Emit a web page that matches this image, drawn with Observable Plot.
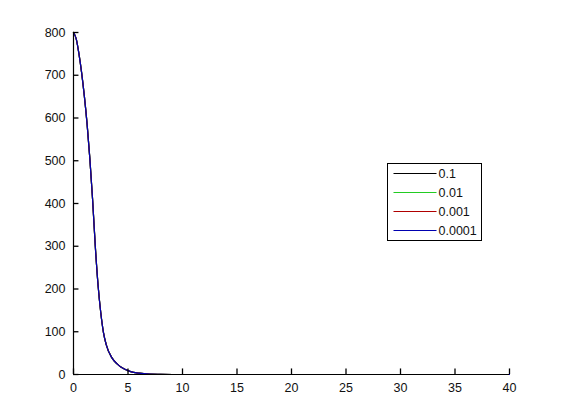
<!DOCTYPE html>
<html>
<head>
<meta charset="utf-8">
<script src="https://cdn.jsdelivr.net/npm/d3@7"></script>
<script src="https://cdn.jsdelivr.net/npm/@observablehq/plot@0.6"></script>
<style>
  html, body { margin: 0; padding: 0; background: #fff; }
  #chart { width: 561px; height: 420px; }
  svg { font-family: "Liberation Sans", Arial, sans-serif; }
</style>
</head>
<body>
<div id="chart"></div>
<script>
// Data
const xs = [0, 0.25, 0.5, 0.75, 1.0, 1.25, 1.5, 1.75, 2.0, 2.25, 2.5, 2.75, 3.0, 3.5, 4.0, 4.5, 5, 5.5, 6, 7, 8, 10, 20, 30, 40];
const ys = [800, 785, 750, 705, 650, 585, 505, 410, 300, 210, 145, 98, 70, 40, 25, 15, 9, 5, 3, 1, 0.5, 0, 0, 0, 0];
const seriesNames = ["0.1", "0.01", "0.001", "0.0001"];
const seriesColors = ["#000000", "#22cc22", "#b00000", "#0000b0"];
const xTicks = [0, 5, 10, 15, 20, 25, 30, 35, 40];
const yTicks = [0, 100, 200, 300, 400, 500, 600, 700, 800];

const data = [];
seriesNames.forEach((name) => {
  xs.forEach((x, i) => data.push({series: name, x, y: ys[i]}));
});

const chart = Plot.plot({
  width: 561,
  height: 420,
  marginLeft: 73,
  marginRight: 52,
  marginTop: 32,
  marginBottom: 46,
  style: {fontSize: "12.5px", color: "#111", background: "#fff"},
  x: {domain: [0, 40], ticks: xTicks},
  y: {domain: [0, 800], ticks: yTicks},
  color: {domain: seriesNames, range: seriesColors},
  marks: [
    Plot.line(data, {x: "x", y: "y", z: "series", stroke: "series", strokeWidth: 1.2, curve: "monotone-x"}),
    // inward tick marks (MATLAB style)
    Plot.ruleX(xTicks, {x: (d) => d, y1: 0, y2: 13, stroke: "#000", strokeWidth: 1.3}),
    Plot.ruleY(yTicks, {y: (d) => d, x1: 0, x2: 0.5, stroke: "#000", strokeWidth: 1.3}),
    Plot.ruleY([0], {stroke: "#000", strokeWidth: 1.2}),
    Plot.ruleX([0], {stroke: "#000", strokeWidth: 1.2}),
    Plot.axisX({ticks: xTicks, tickSize: 0, tickPadding: 9, label: null, fill: "#111"}),
    Plot.axisY({ticks: yTicks, tickSize: 0, tickPadding: 8, label: null, fill: "#111"})
  ]
});

document.getElementById("chart").appendChild(chart);

// Legend box (MATLAB style)
const svg = d3.select(chart);
const lg = svg.append("g").attr("transform", "translate(387.5,163.5)").attr("text-anchor", "start");
lg.append("rect").attr("width", 94).attr("height", 77).attr("fill", "#fff").attr("stroke", "#000");
seriesNames.forEach((name, i) => {
  const y = 10 + i * 19;
  lg.append("line").attr("x1", 6).attr("x2", 49).attr("y1", y).attr("y2", y)
    .attr("stroke", seriesColors[i]).attr("stroke-width", 1.2);
  lg.append("text").attr("x", 51).attr("y", y).attr("dy", "0.35em")
    .attr("font-size", 12.5).attr("fill", "#111").attr("text-anchor", "start").text(name);
});
</script>
</body>
</html>
